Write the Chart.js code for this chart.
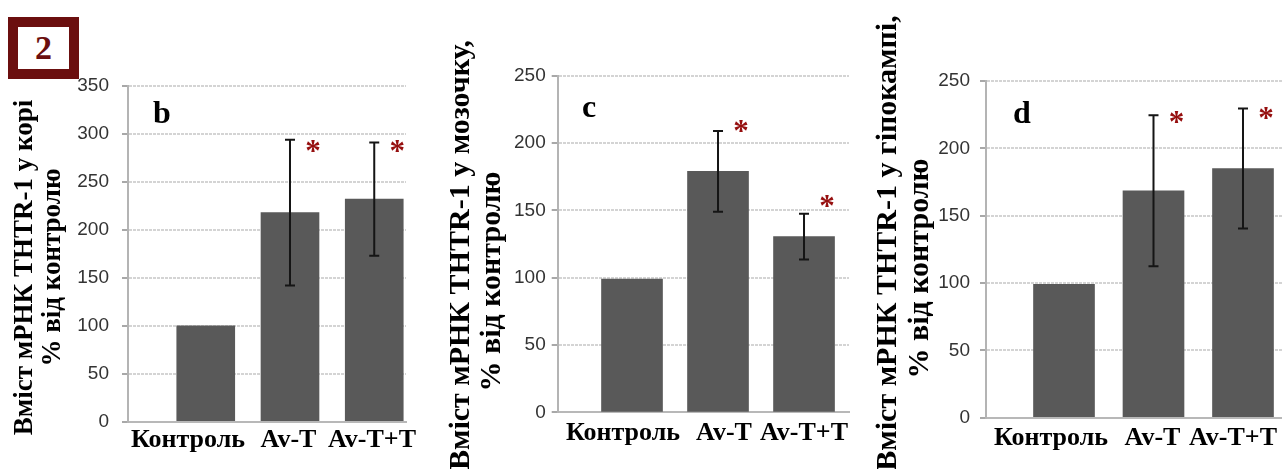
<!DOCTYPE html>
<html><head><meta charset="utf-8">
<script src="https://cdn.jsdelivr.net/npm/chart.js@4/dist/chart.umd.min.js"></script>
<style>
html,body{margin:0;padding:0;background:#fff;}
body{width:1282px;height:469px;position:relative;overflow:hidden;}
.pane{position:absolute;top:0;height:469px;}
#badge{position:absolute;left:8px;top:17px;width:71px;height:62px;box-sizing:border-box;border:10px solid #6b0f0f;color:#6b0f0f;font:bold 34px 'Liberation Serif',serif;display:flex;align-items:center;justify-content:center;}
</style></head><body>
<div id="badge">2</div>
<div class="pane" style="left:0;width:430px"><canvas id="cb" width="430" height="469"></canvas></div>
<div class="pane" style="left:430px;width:430px"><canvas id="cc" width="430" height="469"></canvas></div>
<div class="pane" style="left:860px;width:422px"><canvas id="cd" width="422" height="469"></canvas></div>
<script>
// ---- data ----
const categories = ['Контроль', 'Av-T', 'Av-T+T'];

const valuesCortex = [100, 218, 232];
const errCortex = [0, 76, 59];
const starsCortex = [null, 287, 287];
const ticksCortex = [0, 50, 100, 150, 200, 250, 300, 350];
const titleCortex = ['Вміст мРНК THTR-1 у корі', '% від контролю'];

const valuesCerebellum = [99, 179, 130.5];
const errCerebellum = [0, 30, 17];
const starsCerebellum = [null, 213, 157];
const ticksCerebellum = [0, 50, 100, 150, 200, 250];
const titleCerebellum = ['Вміст мРНК THTR-1 у мозочку,', '% від контролю'];

const valuesHippocampus = [99, 168.5, 185];
const errHippocampus = [0, 56, 44.5];
const starsHippocampus = [null, 223, 226];
const ticksHippocampus = [0, 50, 100, 150, 200, 250];
const titleHippocampus = ['Вміст мРНК THTR-1 у гіпокампі,', '% від контролю'];

// ---- annotation plugin (error bars, stars, panel letter, axis titles) ----
const annot = {
  id: 'annot',
  afterDatasetsDraw(chart, args, o) {
    const ctx = chart.ctx, ys = chart.scales.y;
    const meta = chart.getDatasetMeta(0);
    ctx.save();
    ctx.strokeStyle = '#151515';
    ctx.lineWidth = 2;
    o.values.forEach((v, i) => {
      const e = o.err[i];
      if (!e) return;
      const x = meta.data[i].x;
      const yt = ys.getPixelForValue(v + e), yb = ys.getPixelForValue(v - e);
      ctx.beginPath();
      ctx.moveTo(x, yt); ctx.lineTo(x, yb);
      ctx.moveTo(x - 5, yt); ctx.lineTo(x + 5, yt);
      ctx.moveTo(x - 5, yb); ctx.lineTo(x + 5, yb);
      ctx.stroke();
    });
    ctx.restore();
  },
  afterDraw(chart, args, o) {
    const ctx = chart.ctx, ys = chart.scales.y;
    const meta = chart.getDatasetMeta(0);
    ctx.save();
    // stars
    ctx.fillStyle = '#960f0f';
    ctx.font = 'bold 31px "Liberation Serif", serif';
    ctx.textAlign = 'center';
    ctx.textBaseline = 'alphabetic';
    const m = ctx.measureText('*');
    const shift = (m.actualBoundingBoxAscent - m.actualBoundingBoxDescent) / 2;
    o.stars.forEach((s, i) => {
      if (s == null) return;
      ctx.fillText('*', meta.data[i].x + o.starDx, ys.getPixelForValue(s) + shift);
    });
    // panel letter
    ctx.fillStyle = '#000';
    ctx.font = 'bold 32px "Liberation Serif", serif';
    ctx.textAlign = 'left';
    ctx.fillText(o.letter, o.letterX, o.letterY);
    // rotated axis titles
    ctx.textAlign = 'center';
    ctx.textBaseline = 'middle';
    o.title.forEach((t, i) => {
      const p = o.titlePos[i];
      ctx.save();
      ctx.translate(p[0], p[1]);
      ctx.rotate(-Math.PI / 2);
      ctx.font = 'bold ' + p[2] + 'px "Liberation Serif", serif';
      ctx.fillText(t, 0, 0);
      ctx.restore();
    });
    ctx.restore();
  }
};

function makePanel(id, c) {
  return new Chart(document.getElementById(id), {
    type: 'bar',
    data: {
      datasets: [{
        data: c.values.map((v, i) => ({x: i + 1, y: v})),
        backgroundColor: '#595959',
        borderWidth: 0,
        barThickness: c.barW
      }]
    },
    options: {
      responsive: false,
      animation: false,
      layout: {padding: c.pad},
      plugins: {
        legend: {display: false},
        tooltip: {enabled: false},
        annot: {
          values: c.values, err: c.err, stars: c.stars, starDx: 23,
          letter: c.letter, letterX: c.letterX, letterY: c.letterY,
          title: c.title, titlePos: c.titlePos
        }
      },
      scales: {
        x: {
          type: 'linear', min: c.xMin, max: c.xMax, offset: false,
          grid: {display: false, drawTicks: false, offset: false},
          border: {display: true, color: '#b8b8b8', width: 2},
          afterBuildTicks: s => { s.ticks = c.labelAt.map(v => ({value: v})); },
          ticks: {
            autoSkip: false, maxRotation: 0, minRotation: 0, padding: c.xPad, color: '#000',
            font: {family: '"Liberation Serif", serif', weight: 'bold', size: 26},
            callback: (v, i) => categories[i]
          },
          afterFit: s => { s.height = 40; s.paddingLeft = 0; s.paddingRight = 0; }
        },
        y: {
          min: 0, max: c.yTicks[c.yTicks.length - 1],
          afterBuildTicks: s => { s.ticks = c.yTicks.map(v => ({value: v})); },
          grid: {color: '#d4d4d4', lineWidth: 2, tickLength: 6, tickColor: '#a8a8a8', tickWidth: 2},
          border: {display: true, color: '#b4b4b4', width: 2, dash: [3, 1]},
          ticks: {
            padding: c.yPad, color: '#333',
            font: {family: '"Liberation Sans", Arial, sans-serif', size: 19}
          },
          afterFit: s => { s.width = c.yW; s.paddingTop = 0; s.paddingBottom = 0; }
        }
      }
    },
    plugins: [annot]
  });
}

makePanel('cb', {
  values: valuesCortex, err: errCortex, stars: starsCortex, yTicks: ticksCortex, title: titleCortex,
  pad: {left: 0, right: 24, top: 86, bottom: 7.3}, yW: 128,
  xMin: 0.0772, xMax: 3.3769, barW: 58, labelAt: [0.789, 1.982, 2.973], xPad: 2.7, yPad: 13,
  letter: 'b', letterX: 153, letterY: 123,
  titlePos: [[25, 267.5, 27], [53, 267.5, 27]]
});
makePanel('cc', {
  values: valuesCerebellum, err: errCerebellum, stars: starsCerebellum, yTicks: ticksCerebellum, title: titleCerebellum,
  pad: {left: 0, right: 11, top: 75.7, bottom: 16.7}, yW: 127.7,
  xMin: 0.136, xMax: 3.523, barW: 61, labelAt: [0.895, 2.07, 3.0], xPad: 5.1, yPad: 6,
  letter: 'c', letterX: 152, letterY: 117,
  titlePos: [[31, 255, 30], [62, 281.5, 30]]
});
makePanel('cd', {
  values: valuesHippocampus, err: errHippocampus, stars: starsHippocampus, yTicks: ticksHippocampus, title: titleHippocampus,
  pad: {left: 0, right: 0, top: 81, bottom: 11.3}, yW: 126,
  xMin: 0.1285, xMax: 3.4358, barW: 61, labelAt: [0.855, 1.989, 2.888], xPad: 4.7, yPad: 10,
  letter: 'd', letterX: 153, letterY: 123,
  titlePos: [[28, 243, 30], [60, 268.5, 30]]
});
</script>
</body></html>
